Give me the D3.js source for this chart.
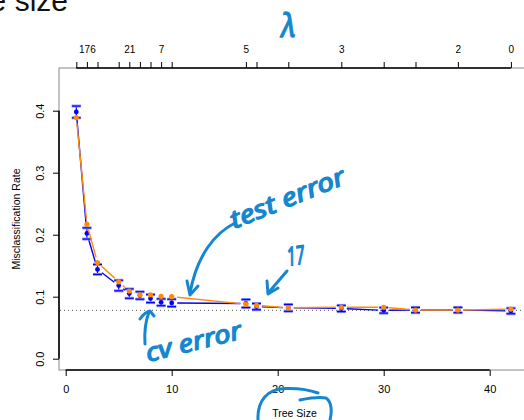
<!DOCTYPE html>
<html>
<head>
<meta charset="utf-8">
<script src="https://cdn.jsdelivr.net/npm/d3@7"></script>
<style>
  body { margin: 0; background: #fff; }
  svg { display: block; }
  text { font-family: "Liberation Sans", Arial, Helvetica, sans-serif; }
  .hand { font-family: "Noto Sans", "DejaVu Sans", sans-serif; font-style: italic; font-weight: 400; }
</style>
</head>
<body>
<script>
// tree sizes of the pruned sequence
var sizes = [1, 2, 3, 5, 6, 7, 8, 9, 10, 17, 18, 21, 26, 30, 33, 37, 42];
// cross-validated misclassification rate and its standard error
var cvError = [0.398, 0.202, 0.144, 0.118, 0.105, 0.102, 0.097, 0.091, 0.090, 0.089, 0.084, 0.082, 0.081, 0.078, 0.0785, 0.0785, 0.077];
var cvSE = [0.0095, 0.009, 0.008, 0.0085, 0.0075, 0.006, 0.0065, 0.0055, 0.006, 0.0065, 0.005, 0.0055, 0.005, 0.0045, 0.0043, 0.0043, 0.0045];
// test set error
var testError = [0.389, 0.217, 0.155, 0.124, 0.109, 0.103, 0.103, 0.1006, 0.100, 0.088, 0.086, 0.082, 0.083, 0.083, 0.0785, 0.0785, 0.080];
// cost-complexity values on the top axis (hidden ones overlap in the original)
var lambdaLabels = ["", "176", "", "", "21", "", "", "7", "", "5", "", "", "3", "", "", "2", "0"];
var xTicks = [0, 10, 20, 30, 40];
var yTicks = [0, 0.1, 0.2, 0.3, 0.4];
var minLine = 0.078;

var W = 524, H = 420;
var mLeft = 59, mTop = 68, mRight = 530, mBottom = 370;
var blue = "#0000ff", orange = "#ff8c00", ink = "#1587cf";

var svg = d3.select("body").append("svg")
  .attr("width", W)
  .attr("height", H);

var x = d3.scaleLinear().domain([0, 40]).range([65.7, 489.7]);
var y = d3.scaleLinear().domain([0, 0.4]).range([358.7, 110.7]);

// slide title, cut by the crop
svg.append("text")
  .attr("x", 68).attr("y", 11)
  .attr("text-anchor", "end")
  .attr("font-size", 30)
  .attr("fill", "#111")
  .text("Tree size");

// box
svg.append("rect")
  .attr("x", mLeft).attr("y", mTop)
  .attr("width", mRight - mLeft).attr("height", mBottom - mTop)
  .attr("fill", "none").attr("stroke", "#888").attr("stroke-width", 1);

// min error reference line
svg.append("line")
  .attr("x1", mLeft + 1).attr("x2", W)
  .attr("y1", y(minLine)).attr("y2", y(minLine))
  .attr("stroke", "#555").attr("stroke-width", 1)
  .attr("stroke-dasharray", "1,3");

// bottom axis
var gx = svg.append("g")
  .attr("transform", "translate(0," + mBottom + ")")
  .call(d3.axisBottom(x).tickValues(xTicks).tickSize(6).tickSizeOuter(0).tickPadding(9).tickFormat(d3.format("d")));
gx.select(".domain").remove();
gx.append("line").attr("x1", x(xTicks[0])).attr("x2", x(xTicks[xTicks.length - 1]))
  .attr("stroke", "#000").attr("stroke-width", 1.6);
gx.selectAll("text").attr("font-size", 11).attr("fill", "#000");

// left axis, labels parallel to the axis
var gy = svg.append("g")
  .attr("transform", "translate(" + mLeft + ",0)")
  .call(d3.axisLeft(y).tickValues(yTicks).tickSize(6).tickSizeOuter(0).tickFormat(d3.format(".1f")));
gy.select(".domain").remove();
gy.append("line").attr("y1", y(yTicks[0])).attr("y2", y(yTicks[yTicks.length - 1]))
  .attr("stroke", "#000").attr("stroke-width", 1.6);
gy.selectAll(".tick text")
  .attr("x", null).attr("dy", null)
  .attr("text-anchor", "middle")
  .attr("transform", "translate(-15.5,0) rotate(-90)")
  .attr("font-size", 11).attr("fill", "#000");

// top axis with the lambda values
var gt = svg.append("g")
  .attr("transform", "translate(0," + mTop + ")")
  .call(d3.axisTop(x).tickValues(sizes).tickSize(6).tickSizeOuter(0).tickPadding(9.5)
    .tickFormat(function(d, i) { return lambdaLabels[i]; }));
gt.select(".domain").remove();
gt.append("line").attr("x1", x(d3.min(sizes))).attr("x2", x(d3.max(sizes)))
  .attr("stroke", "#000").attr("stroke-width", 1.6);
gt.selectAll("text").attr("font-size", 10).attr("fill", "#000");

svg.selectAll(".tick line").attr("stroke", "#000").attr("stroke-width", 1);

// axis titles
svg.append("text")
  .attr("x", 294.5).attr("y", 416.5)
  .attr("text-anchor", "middle")
  .attr("font-size", 10.5)
  .text("Tree Size");
svg.append("text")
  .attr("transform", "translate(20," + ((mTop + mBottom) / 2) + ") rotate(-90)")
  .attr("text-anchor", "middle")
  .attr("font-size", 10.5)
  .text("Misclassification Rate");

// lines with gaps around the points (type = "b")
function gapSegments(vals) {
  var segs = [];
  for (var i = 0; i < sizes.length - 1; i++) {
    var x1 = x(sizes[i]), y1 = y(vals[i]), x2 = x(sizes[i + 1]), y2 = y(vals[i + 1]);
    var dx = x2 - x1, dy = y2 - y1, len = Math.sqrt(dx * dx + dy * dy), g = 5.5;
    if (len <= 2 * g) continue;
    segs.push([x1 + dx * g / len, y1 + dy * g / len, x2 - dx * g / len, y2 - dy * g / len]);
  }
  return segs;
}

function drawLine(vals, color) {
  svg.append("g").selectAll("line")
    .data(gapSegments(vals))
    .enter()
      .append("line")
      .attr("x1", function(d) { return d[0]; })
      .attr("y1", function(d) { return d[1]; })
      .attr("x2", function(d) { return d[2]; })
      .attr("y2", function(d) { return d[3]; })
      .attr("stroke", color)
      .attr("stroke-width", 1.4);
}

drawLine(cvError, blue);

// error bars
var bars = svg.append("g").selectAll("g")
  .data(sizes)
  .enter()
    .append("g");
bars.append("line")
  .attr("x1", function(d) { return x(d); })
  .attr("x2", function(d) { return x(d); })
  .attr("y1", function(d, i) { return y(cvError[i] + cvSE[i]); })
  .attr("y2", function(d, i) { return y(cvError[i] - cvSE[i]); })
  .attr("stroke", blue).attr("stroke-width", 1.2);
[1, -1].forEach(function(s) {
  bars.append("line")
    .attr("x1", function(d) { return x(d) - 4.5; })
    .attr("x2", function(d) { return x(d) + 4.5; })
    .attr("y1", function(d, i) { return y(cvError[i] + s * cvSE[i]); })
    .attr("y2", function(d, i) { return y(cvError[i] + s * cvSE[i]); })
    .attr("stroke", "#8c8cff").attr("stroke-width", 3);
  bars.append("line")
    .attr("x1", function(d) { return x(d) - 4.5; })
    .attr("x2", function(d) { return x(d) + 4.5; })
    .attr("y1", function(d, i) { return y(cvError[i] + s * cvSE[i]); })
    .attr("y2", function(d, i) { return y(cvError[i] + s * cvSE[i]); })
    .attr("stroke", blue).attr("stroke-width", 1.2);
});

svg.append("g").selectAll("circle")
  .data(sizes)
  .enter()
    .append("circle")
    .attr("cx", function(d) { return x(d); })
    .attr("cy", function(d, i) { return y(cvError[i]); })
    .attr("r", 2.4)
    .attr("fill", blue);

drawLine(testError, orange);
svg.append("g").selectAll("circle")
  .data(sizes)
  .enter()
    .append("circle")
    .attr("cx", function(d) { return x(d); })
    .attr("cy", function(d, i) { return y(testError[i]); })
    .attr("r", 2.6)
    .attr("fill", orange);

// hand-written notes
var notes = svg.append("g")
  .attr("fill", "none").attr("stroke", ink).attr("stroke-width", 3)
  .attr("stroke-linecap", "round").attr("stroke-linejoin", "round");
notes.append("path").attr("d", "M235,223 C215,233 197,255 190,293");
notes.append("path").attr("d", "M187,281 L190,295 L198,286");
notes.append("path").attr("d", "M287,271 L269,292");
notes.append("path").attr("d", "M267,281 L268,294 L278,288");
notes.append("path").attr("d", "M145,344 C144,330 146,320 149,312");
notes.append("path").attr("d", "M140,319 Q145,312 150,311 L154,316");
notes.append("path").attr("d", "M258,420 C257,400 268,389 285,388.5 C300,388 310,390 318,393");
notes.append("path").attr("d", "M300,400 C310,398 320,397 326,398 C332,402 332,412 330,420");

function hand(str, px, py, angle, size, len) {
  svg.append("text")
    .attr("class", "hand")
    .attr("transform", "translate(" + px + "," + py + ") rotate(" + angle + ")")
    .attr("font-size", size)
    .attr("textLength", len)
    .attr("lengthAdjust", "spacingAndGlyphs")
    .attr("fill", ink)
    .attr("stroke", ink).attr("stroke-width", 1.3)
    .attr("stroke-linejoin", "round")
    .text(str);
}
hand("test error", 234, 229, -22, 25, 122);
hand("17", 288, 266, -8, 26, 18);
hand("cv error", 148, 362, -14, 25, 98);
hand("λ", 281, 37, 0, 32, 15);
</script>
</body>
</html>
